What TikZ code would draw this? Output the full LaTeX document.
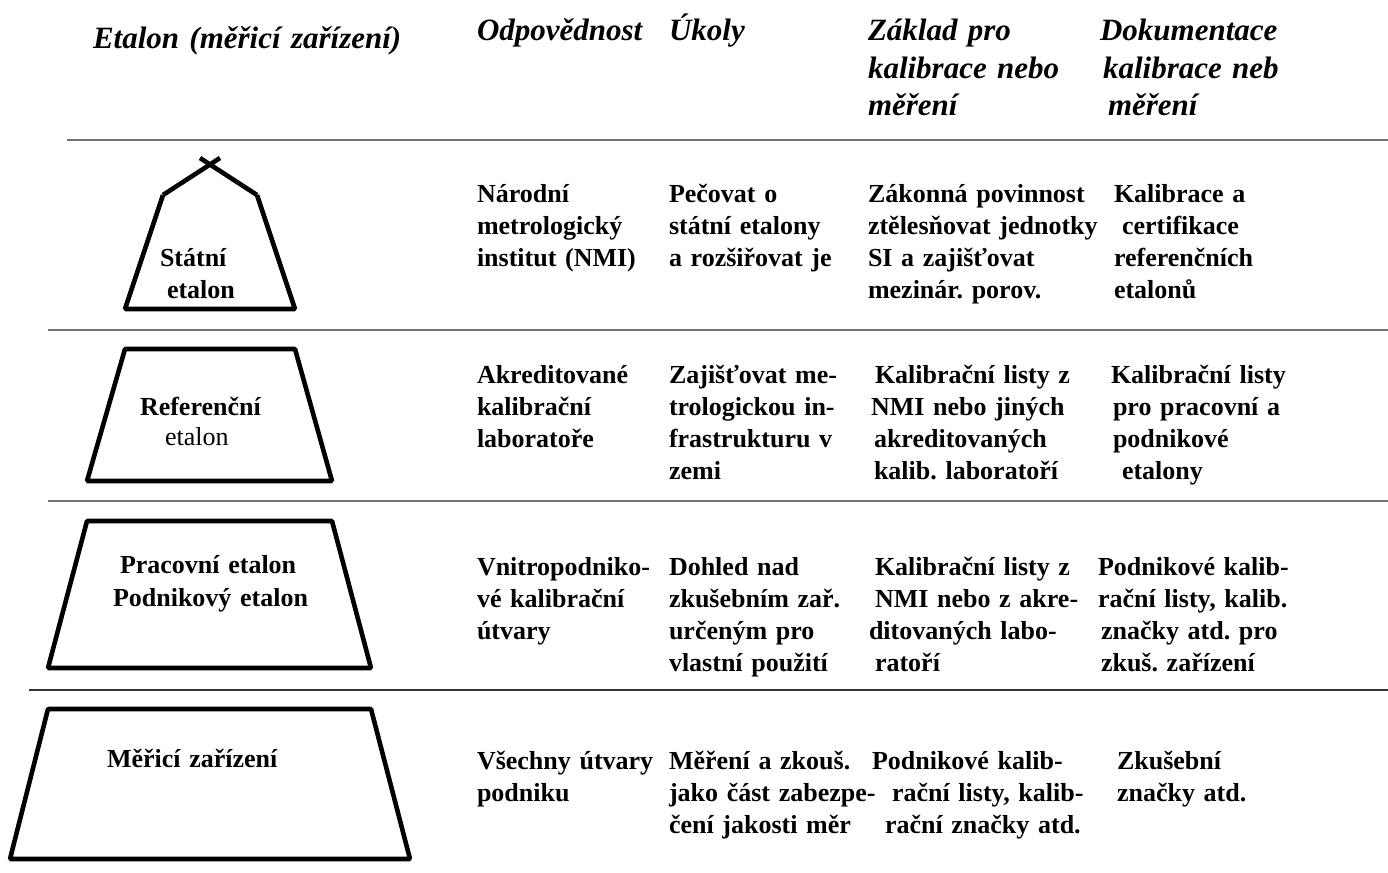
\documentclass[tikz,border=0pt]{standalone}
\usepackage{fontspec}
\setmainfont{Liberation Serif}
\frenchspacing
\begin{document}
\begin{tikzpicture}[x=1pt,y=-1pt,
  body/.style={anchor=base west, inner sep=0pt, outer sep=0pt, align=left, text width=#1,
    font=\fontsize{26}{32}\selectfont\bfseries\frenchspacing},
  body/.default=190pt,
  hdr/.style={anchor=base west, inner sep=0pt, outer sep=0pt, align=left, text width=#1,
    font=\fontsize{31}{37.5}\selectfont\bfseries\itshape\frenchspacing},
  hdr/.default=190pt,
  sep/.style={draw=black!55, line width=1.6pt},
  sepdark/.style={draw=black!80, line width=1.2pt},
  etal/.style={draw=black, line width=4.6pt, line join=bevel}
]
\useasboundingbox (0,0) rectangle (1388,872);

% separators
\draw[sep] (67,140) -- (1388,140);
\draw[sep] (48,330) -- (1388,330);
\draw[sep] (48,501) -- (1388,501);
\draw[sepdark] (29,690) -- (1388,690);

% etalon shapes
\draw[etal] (163,195) -- (125,309) -- (295,309) -- (257,195);
\draw[etal] (163,195) -- (220,158);
\draw[etal] (257,195) -- (200,158);
\draw[etal] (125,349) -- (295,349) -- (332,481) -- (87,481) -- cycle;
\draw[etal] (87,521) -- (332,521) -- (371,668) -- (48,668) -- cycle;
\draw[etal] (48,709) -- (371,709) -- (410,859) -- (10,859) -- cycle;

% headers
\node[hdr=370pt] (h1) at (93,49) {Etalon (měřicí zařízení)};
\node[hdr] (h2) at (477,41) {Odpovědnost};
\node[hdr] (h3) at (669,41) {Úkoly};
\node[hdr=230pt] (h4) at (868,41) {Základ pro\\kalibrace nebo\\měření};
\node[hdr=230pt] (h5) at (1100,41) {Dokumentace\\\hspace*{3pt}kalibrace neb\\\hspace*{8pt}měření};

% left labels
\node[body=150pt] (l1) at (160,266) {Státní\\\hspace*{7pt}etalon};
\node[body=160pt] (l2) at (140,415) {Referenční\\[-2pt]\hspace*{25pt}\mdseries etalon};
\node[body=220pt] (l3) at (120,573) {Pracovní etalon\\[1pt]\hspace*{-7pt}Podnikový etalon};
\node[body=220pt] (l4) at (107,767) {Měřicí zařízení};

% row 1
\node[body] (a2) at (477,202) {Národní\\metrologický\\institut (NMI)};
\node[body=250pt] (a3) at (669,202) {Pečovat o\\státní etalony\\a rozšiřovat je};
\node[body=260pt] (a4) at (868,202) {Zákonná povinnost\\ztělesňovat jednotky\\SI a zajišťovat\\mezinár. porov.};
\node[body=260pt] (a5) at (1114,202) {Kalibrace a\\\hspace*{8pt}certifikace\\referenčních\\etalonů};

% row 2
\node[body] (b2) at (477,383) {Akreditované\\kalibrační\\laboratoře};
\node[body=250pt] (b3) at (669,383) {Zajišťovat me-\\trologickou in-\\frastrukturu v\\zemi};
\node[body=260pt] (b4) at (871,383) {\hspace*{4pt}Kalibrační listy z\\NMI nebo jiných\\\hspace*{3pt}akreditovaných\\\hspace*{3pt}kalib. laboratoří};
\node[body=260pt] (b5) at (1111,383) {Kalibrační listy\\\hspace*{2pt}pro pracovní a\\\hspace*{2pt}podnikové\\\hspace*{11pt}etalony};

% row 3
\node[body=200pt] (c2) at (477,575) {Vnitropodniko-\\vé kalibrační\\útvary};
\node[body=250pt] (c3) at (669,575) {Dohled nad\\zkušebním zař.\\určeným pro\\vlastní použití};
\node[body=260pt] (c4) at (869,575) {\hspace*{6pt}Kalibrační listy z\\\hspace*{6pt}NMI nebo z akre-\\ditovaných labo-\\\hspace*{6pt}ratoří};
\node[body=260pt] (c5) at (1098,575) {Podnikové kalib-\\rační listy, kalib.\\\hspace*{3pt}značky atd. pro\\\hspace*{3pt}zkuš. zařízení};

% row 4
\node[body=200pt] (d2) at (477,769) {Všechny útvary\\podniku};
\node[body=250pt] (d3) at (669,769) {Měření a zkouš.\\jako část zabezpe-\\čení jakosti měr};
\node[body=260pt] (d4) at (872,769) {Podnikové kalib-\\\hspace*{20pt}rační listy, kalib-\\\hspace*{13pt}rační značky atd.};
\node[body=260pt] (d5) at (1117,769) {Zkušební\\značky atd.};
\end{tikzpicture}
\end{document}
